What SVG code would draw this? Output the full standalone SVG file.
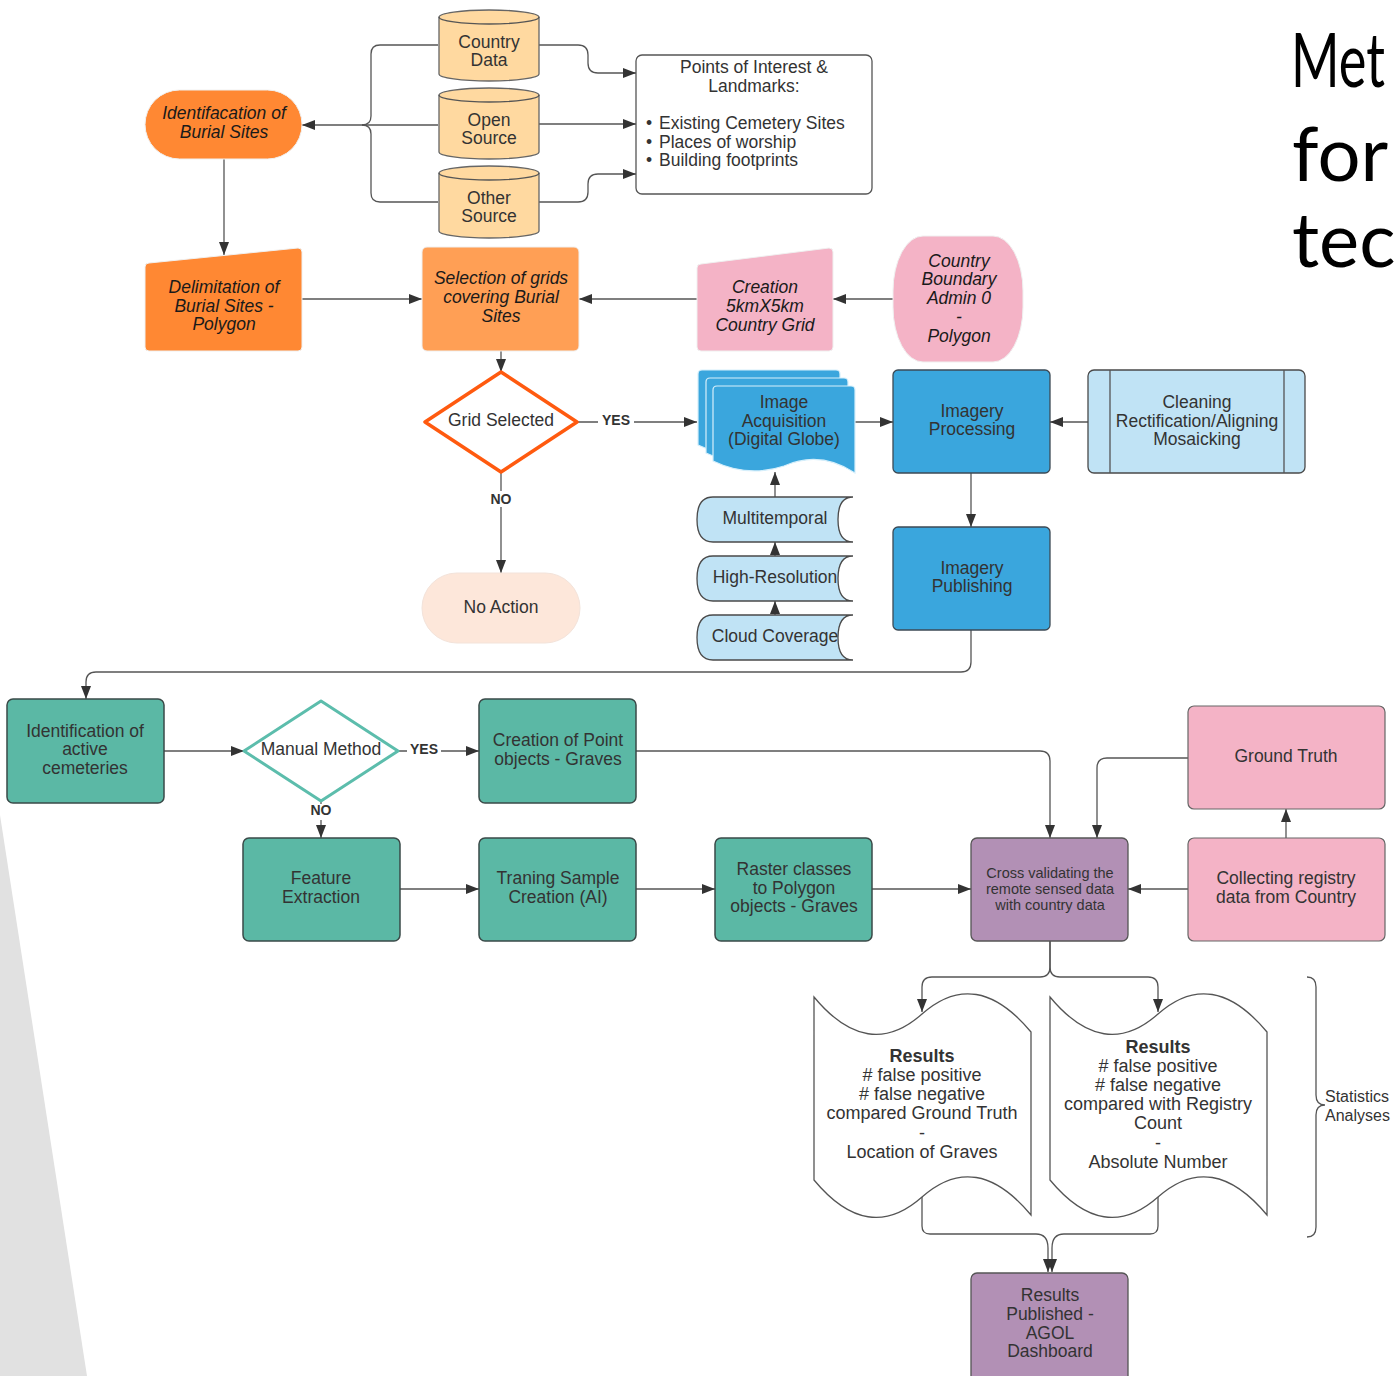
<svg xmlns="http://www.w3.org/2000/svg" width="1395" height="1376" viewBox="0 0 1395 1376">
<defs>
<style>
text{font-family:"Liberation Sans",Arial,sans-serif;font-size:17.5px;fill:#333;text-anchor:middle}
.it{font-style:italic;fill:#1a1a1a}
.b{font-weight:bold}
.d{font-size:18px}
.lbl{font-weight:bold;font-size:14px;fill:#333}
.ttl{font-family:Lato,"Open Sans",sans-serif;font-size:76px;fill:#000;text-anchor:start}
.c{fill:none;stroke:#555;stroke-width:1.3}
.ca{fill:none;stroke:#555;stroke-width:1.3;marker-end:url(#ah)}
.teal{fill:#5BB8A5;stroke:#3a4a48;stroke-width:1.5}
.blue{fill:#3AA6DD;stroke:#3c4a55;stroke-width:1.3}
.lblue{fill:#C0E3F5;stroke:#4a4a4a;stroke-width:1.3}
.pink{fill:#F4B3C6;stroke:#666;stroke-width:1.2}
.purple{fill:#B290B5;stroke:#555;stroke-width:1.3}
.cyl{fill:#FFD9A0;stroke:#666;stroke-width:1.3}
.doc{fill:#fff;stroke:#555;stroke-width:1.3}
</style>
<marker id="ah" markerWidth="13" markerHeight="10" refX="13" refY="5" orient="auto" markerUnits="userSpaceOnUse"><path d="M0,0 L13,5 L0,10 z" fill="#333"/></marker>
</defs>
<rect width="1395" height="1376" fill="#fff"/>
<polygon points="0,815 87,1376 0,1376" fill="#e1e1e1"/>
<g id="title">
<text class="ttl" x="1291" y="87" textLength="94" lengthAdjust="spacingAndGlyphs">Met</text>
<text class="ttl" x="1292" y="181">for</text>
<text class="ttl" x="1292" y="267">tec</text>
</g>
<g id="connectors">
<path class="c" d="M438,45 H380 Q371,45 371,54 V116 Q371,125 362,125"/>
<path class="c" d="M438,202 H380 Q371,202 371,193 V134 Q371,125 362,125"/>
<path class="ca" d="M438,125 H302"/>
<path class="ca" d="M539,45 H578 Q588,45 588,55 V63 Q588,73 598,73 H636"/>
<path class="ca" d="M539,124 H636"/>
<path class="ca" d="M539,202 H578 Q588,202 588,192 V184 Q588,174 598,174 H636"/>
<path class="ca" d="M224,159 V255"/>
<path class="ca" d="M302,299 H422"/>
<path class="ca" d="M697,299 H579"/>
<path class="ca" d="M893,299 H833"/>
<path class="ca" d="M501,351 V372"/>
<path class="ca" d="M577,422 H697"/>
<path class="ca" d="M501,472 V573"/>
<path class="ca" d="M855,422 H893"/>
<path class="ca" d="M1088,422 H1050"/>
<path class="ca" d="M971,473 V527"/>
<path class="ca" d="M775,497 V472"/>
<path class="ca" d="M775,556 V542"/>
<path class="ca" d="M775,615 V601"/>
<path class="ca" d="M971,630 V662 Q971,672 961,672 H96 Q86,672 86,682 V699"/>
<path class="ca" d="M164,751 H244"/>
<path class="ca" d="M398,751 H479"/>
<path class="ca" d="M321,801 V838"/>
<path class="ca" d="M400,889 H479"/>
<path class="ca" d="M636,889 H715"/>
<path class="ca" d="M872,889 H971"/>
<path class="ca" d="M636,751 H1040 Q1050,751 1050,761 V838"/>
<path class="ca" d="M1188,758 H1107 Q1097,758 1097,768 V838"/>
<path class="ca" d="M1188,889 H1128"/>
<path class="ca" d="M1286,838 V809"/>
<path class="ca" d="M1050,941 V967 Q1050,977 1040,977 H932 Q922,977 922,987 V1012"/>
<path class="ca" d="M1050,941 V967 Q1050,977 1060,977 H1148 Q1158,977 1158,987 V1012"/>
<path class="ca" d="M922,1197 V1226 Q922,1234 930,1234 H1036 Q1048,1234 1048,1248 V1272"/>
<path class="ca" d="M1158,1197 V1226 Q1158,1234 1150,1234 H1064 Q1052,1234 1052,1248 V1272"/>
<g id="labels">
<rect x="598" y="413" width="36" height="16" fill="#fff"/>
<text class="lbl" x="616" y="425">YES</text>
<rect x="486" y="491" width="30" height="16" fill="#fff"/>
<text class="lbl" x="501" y="504">NO</text>
<rect x="407" y="742" width="34" height="16" fill="#fff"/>
<text class="lbl" x="424" y="754">YES</text>
<rect x="307" y="804" width="28" height="16" fill="#fff"/>
<text class="lbl" x="321" y="815">NO</text>
</g>
</g>
<g id="identifacation">
<rect x="145" y="90" width="157" height="69" rx="34.5" fill="#FF8833" stroke="#f0f0f0" stroke-width="1"/>
<text class="it" x="224" y="119">Identifacation of</text>
<text class="it" x="224" y="138">Burial Sites</text>
</g>
<g id="country-data">
<path class="cyl" d="M439,17 A50,7 0 0 1 539,17 V74 A50,7 0 0 1 439,74 Z"/>
<path class="c" d="M439,17 A50,7 0 0 0 539,17" stroke="#666"/>
<text x="489" y="48">Country</text>
<text x="489" y="66">Data</text>
</g>
<g id="open-source">
<path class="cyl" d="M439,95 A50,7 0 0 1 539,95 V152 A50,7 0 0 1 439,152 Z"/>
<path class="c" d="M439,95 A50,7 0 0 0 539,95" stroke="#666"/>
<text x="489" y="126">Open</text>
<text x="489" y="144">Source</text>
</g>
<g id="other-source">
<path class="cyl" d="M439,173 A50,7 0 0 1 539,173 V231 A50,7 0 0 1 439,231 Z"/>
<path class="c" d="M439,173 A50,7 0 0 0 539,173" stroke="#666"/>
<text x="489" y="204">Other</text>
<text x="489" y="222">Source</text>
</g>
<g id="points-of-interest">
<rect x="636" y="55" width="236" height="139" rx="6" fill="#fff" stroke="#555" stroke-width="1.3"/>
<text x="754" y="73">Points of Interest &amp;</text>
<text x="754" y="92">Landmarks:</text>
<text x="646" y="129" style="text-anchor:start">•</text>
<text x="659" y="129" style="text-anchor:start">Existing Cemetery Sites</text>
<text x="646" y="148" style="text-anchor:start">•</text>
<text x="659" y="148" style="text-anchor:start">Places of worship</text>
<text x="646" y="166" style="text-anchor:start">•</text>
<text x="659" y="166" style="text-anchor:start">Building footprints</text>
</g>
<g id="delimitation">
<path d="M149,263 L298,248 Q302,248 302,252 V347 Q302,351 298,351 H149 Q145,351 145,347 V267 Q145,263 149,263 Z" fill="#FF8833" stroke="#f0f0f0" stroke-width="1"/>
<text class="it" x="224" y="293">Delimitation of</text>
<text class="it" x="224" y="312">Burial Sites -</text>
<text class="it" x="224" y="330">Polygon</text>
</g>
<g id="selection-grids">
<rect x="422" y="247" width="157" height="104" rx="5" fill="#FF9F55" stroke="#f0f0f0" stroke-width="1"/>
<text class="it" x="501" y="284">Selection of grids</text>
<text class="it" x="501" y="303">covering Burial</text>
<text class="it" x="501" y="322">Sites</text>
</g>
<g id="creation-grid">
<path d="M701,264 L829,248 Q833,248 833,252 V347 Q833,351 829,351 H701 Q697,351 697,347 V268 Q697,264 701,264 Z" fill="#F4B3C6" stroke="#f0f0f0" stroke-width="1"/>
<text class="it" x="765" y="293">Creation</text>
<text class="it" x="765" y="312">5kmX5km</text>
<text class="it" x="765" y="331">Country Grid</text>
</g>
<g id="country-boundary">
<rect x="893" y="236" width="130" height="126" rx="30" ry="55" fill="#F4B3C6" stroke="#f0f0f0" stroke-width="1"/>
<text class="it" x="959" y="267">Country</text>
<text class="it" x="959" y="285">Boundary</text>
<text class="it" x="959" y="304">Admin 0</text>
<text class="it" x="959" y="323">-</text>
<text class="it" x="959" y="342">Polygon</text>
</g>
<g id="grid-selected">
<polygon points="501,372 577,422 501,472 425,422" fill="#fff" stroke="#FF5A0F" stroke-width="3.5" stroke-linejoin="round"/>
<text x="501" y="426">Grid Selected</text>
</g>
<g id="no-action">
<rect x="422" y="573" width="158" height="70" rx="35" fill="#FDE7DA" stroke="#f3e3da" stroke-width="1"/>
<text x="501" y="613">No Action</text>
</g>
<g id="image-acquisition">
<path d="M698,374 Q698,370 702,370 H836 Q840,370 840,374 V457 Q805,434 769,450 Q733,462 698,445 Z" fill="#3AA6DD" stroke="#d6effb" stroke-width="1.2"/>
<path d="M706,382 Q706,378 710,378 H844 Q848,378 848,382 V465 Q813,442 777,458 Q741,470 706,453 Z" fill="#3AA6DD" stroke="#d6effb" stroke-width="1.2"/>
<path d="M713,390 Q713,386 717,386 H851 Q855,386 855,390 V473 Q820,450 784,466 Q748,478 713,461 Z" fill="#3AA6DD" stroke="#d6effb" stroke-width="1.2"/>
<text x="784" y="408">Image</text>
<text x="784" y="427">Acquisition</text>
<text x="784" y="445">(Digital Globe)</text>
</g>
<g id="imagery-processing">
<rect class="blue" x="893" y="370" width="157" height="103" rx="5"/>
<text x="972" y="417">Imagery</text>
<text x="972" y="435">Processing</text>
</g>
<g id="cleaning">
<rect class="lblue" x="1088" y="370" width="217" height="103" rx="6"/>
<path class="c" d="M1110,370 V473 M1284,370 V473" stroke="#4a4a4a"/>
<text x="1197" y="408">Cleaning</text>
<text x="1197" y="427">Rectification/Aligning</text>
<text x="1197" y="445">Mosaicking</text>
</g>
<g id="imagery-publishing">
<rect class="blue" x="893" y="527" width="157" height="103" rx="5"/>
<text x="972" y="574">Imagery</text>
<text x="972" y="592">Publishing</text>
</g>
<g id="multitemporal">
<path class="lblue" d="M713,497 H853 Q838,497 838,519.5 Q838,542 853,542 H713 Q697,542 697,519.5 Q697,497 713,497 Z"/>
<text x="775" y="524">Multitemporal</text>
</g>
<g id="high-resolution">
<path class="lblue" d="M713,556 H853 Q838,556 838,578.5 Q838,601 853,601 H713 Q697,601 697,578.5 Q697,556 713,556 Z"/>
<text x="775" y="583">High-Resolution</text>
</g>
<g id="cloud-coverage">
<path class="lblue" d="M713,615 H853 Q838,615 838,637.5 Q838,660 853,660 H713 Q697,660 697,637.5 Q697,615 713,615 Z"/>
<text x="775" y="642">Cloud Coverage</text>
</g>
<g id="identification-active">
<rect class="teal" x="7" y="699" width="157" height="104" rx="6"/>
<text x="85" y="737">Identification of</text>
<text x="85" y="755">active</text>
<text x="85" y="774">cemeteries</text>
</g>
<g id="manual-method">
<polygon points="321,701 398,751 321,801 244,751" fill="#fff" stroke="#5CBDAC" stroke-width="3" stroke-linejoin="round"/>
<text x="321" y="755">Manual Method</text>
</g>
<g id="creation-point">
<rect class="teal" x="479" y="699" width="157" height="104" rx="6"/>
<text x="558" y="746">Creation of Point</text>
<text x="558" y="765">objects - Graves</text>
</g>
<g id="feature-extraction">
<rect class="teal" x="243" y="838" width="157" height="103" rx="6"/>
<text x="321" y="884">Feature</text>
<text x="321" y="903">Extraction</text>
</g>
<g id="training-sample">
<rect class="teal" x="479" y="838" width="157" height="103" rx="6"/>
<text x="558" y="884">Traning Sample</text>
<text x="558" y="903">Creation (AI)</text>
</g>
<g id="raster-classes">
<rect class="teal" x="715" y="838" width="157" height="103" rx="6"/>
<text x="794" y="875">Raster classes</text>
<text x="794" y="894">to Polygon</text>
<text x="794" y="912">objects - Graves</text>
</g>
<g id="cross-validating">
<rect class="purple" x="971" y="838" width="157" height="103" rx="6"/>
<text x="1050" y="878" style="font-size:14.5px">Cross validating the</text>
<text x="1050" y="894" style="font-size:14.5px">remote sensed data</text>
<text x="1050" y="910" style="font-size:14.5px">with country data</text>
</g>
<g id="ground-truth">
<rect class="pink" x="1188" y="706" width="197" height="103" rx="6"/>
<text x="1286" y="762">Ground Truth</text>
</g>
<g id="collecting-registry">
<rect class="pink" x="1188" y="838" width="197" height="103" rx="6"/>
<text x="1286" y="884">Collecting registry</text>
<text x="1286" y="903">data from Country</text>
</g>
<g id="results-ground-truth">
<path class="doc" d="M814,997 Q868,1062 922,1014 Q976,966 1031,1032 V1215 Q976,1149 922,1197 Q868,1245 814,1180 Z"/>
<text class="b d" x="922" y="1062">Results</text>
<text class="d" x="922" y="1081">#&#160;false positive</text>
<text class="d" x="922" y="1100">#&#160;false negative</text>
<text class="d" x="922" y="1119">compared Ground Truth</text>
<text class="d" x="922" y="1139">-</text>
<text class="d" x="922" y="1158">Location of Graves</text>
</g>
<g id="results-registry">
<path class="doc" d="M1050,997 Q1104,1062 1158,1014 Q1212,966 1267,1032 V1215 Q1212,1149 1158,1197 Q1104,1245 1050,1180 Z"/>
<text class="b d" x="1158" y="1053">Results</text>
<text class="d" x="1158" y="1072">#&#160;false positive</text>
<text class="d" x="1158" y="1091">#&#160;false negative</text>
<text class="d" x="1158" y="1110">compared with Registry</text>
<text class="d" x="1158" y="1129">Count</text>
<text class="d" x="1158" y="1149">-</text>
<text class="d" x="1158" y="1168">Absolute Number</text>
</g>
<g id="statistics">
<path class="c" stroke="#777" d="M1307,977 Q1316,977 1316,987 V1095 Q1316,1105 1325,1105 Q1316,1105 1316,1115 V1227 Q1316,1237 1307,1237"/>
<text x="1325" y="1102" style="text-anchor:start;font-size:16px">Statistics</text>
<text x="1325" y="1121" style="text-anchor:start;font-size:16px">Analyses</text>
</g>
<g id="results-published">
<rect class="purple" x="971" y="1273" width="157" height="112" rx="6"/>
<text x="1050" y="1301">Results</text>
<text x="1050" y="1320">Published -</text>
<text x="1050" y="1339">AGOL</text>
<text x="1050" y="1357">Dashboard</text>
</g>
</svg>
